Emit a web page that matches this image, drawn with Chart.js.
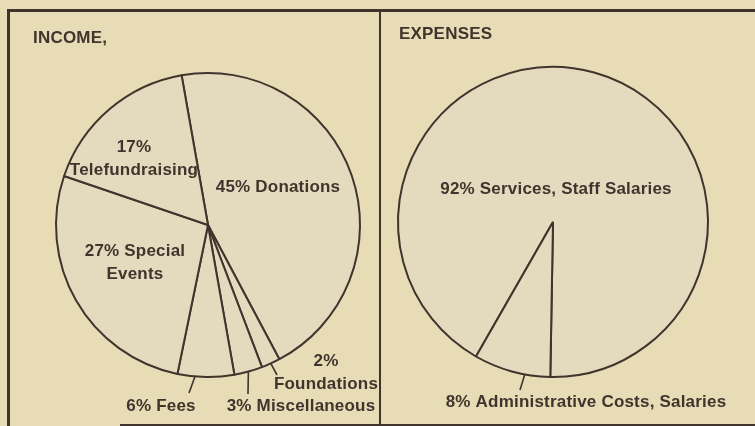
<!DOCTYPE html>
<html>
<head>
<meta charset="utf-8">
<script src="https://cdn.jsdelivr.net/npm/chart.js@4.4.1/dist/chart.umd.min.js"></script>
<style>
  html, body { margin: 0; padding: 0; }
  body { width: 755px; height: 426px; background: #e7dcb6; position: relative; overflow: hidden; }
  canvas { position: absolute; top: 0; }
  #cInc { left: 0; }
  #cExp { left: 380px; }
  .rule { position: absolute; background: #3f332b; }
</style>
</head>
<body>
<div class="rule" style="left:7px; top:9px; width:748px; height:3px;"></div>
<div class="rule" style="left:7px; top:9px; width:3px; height:417px;"></div>
<div class="rule" style="left:379px; top:9px; width:2px; height:417px;"></div>
<div class="rule" style="left:120px; top:424px; width:635px; height:2px;"></div>
<canvas id="cInc" width="380" height="426"></canvas>
<canvas id="cExp" width="375" height="426"></canvas>
<script>
// ---- data ----
const incomeTitle = 'INCOME,';
const incomeCategories = ['Donations', 'Foundations', 'Miscellaneous', 'Fees', 'Special Events', 'Telefundraising'];
const incomeValues = [45, 2, 3, 6, 27, 17];

const expenseTitle = 'EXPENSES';
const expenseCategories = ['Services, Staff Salaries', 'Administrative Costs, Salaries'];
const expenseValues = [92, 8];

// ---- styling ----
const INK = '#40342d';
const PIE_FILL = '#e4dabd';
const FONT = 'bold 17px "Liberation Sans", Arial, sans-serif';
const LETTER_SPACING = '0.2px';
const LINE_H = 23;

// label layout (offsets from pie centre), line-break mode: 0 one line, 1 break after %, 2 break before last word
const incomeLabelLayout = [
  { dx: 70, dy: -38, mode: 0 },
  { dx: 118, dy: 148, mode: 1, leader: { frac: 0.5, ex: 69, ey: 150 } },
  { dx: 93, dy: 181, mode: 0, leader: { frac: 0.5, ex: 40, ey: 169 } },
  { dx: -47, dy: 181, mode: 0, leader: { frac: 0.69, ex: -19, ey: 168 } },
  { dx: -73, dy: 38, mode: 2 },
  { dx: -74, dy: -66, mode: 1 }
];
const expenseLabelLayout = [
  { dx: 3, dy: -33, mode: 0 },
  { dx: 33, dy: 180, mode: 0, leader: { frac: 0.33, ex: -33, ey: 168 } }
];

function labelLines(value, cat, mode) {
  const pct = value + '%';
  if (mode === 1) return [pct, cat];
  if (mode === 2) {
    const w = cat.split(' ');
    const last = w.pop();
    return [pct + ' ' + w.join(' '), last];
  }
  return [pct + ' ' + cat];
}

const pieText = {
  id: 'pieText',
  afterDraw(chart, args, opts) {
    const ctx = chart.ctx;
    const arcs = chart.getDatasetMeta(0).data;
    const values = chart.data.datasets[0].data;
    const cats = chart.data.labels;
    ctx.save();
    ctx.fillStyle = INK;
    ctx.strokeStyle = INK;
    ctx.font = FONT;
    if ('letterSpacing' in ctx) ctx.letterSpacing = LETTER_SPACING;
    // title
    ctx.textAlign = 'left';
    ctx.textBaseline = 'alphabetic';
    ctx.fillText(opts.title, opts.titleX, opts.titleY);
    const cx = arcs[0].x, cy = arcs[0].y, r = arcs[0].outerRadius;
    ctx.textAlign = 'center';
    ctx.textBaseline = 'middle';
    opts.layout.forEach((L, i) => {
      const lines = labelLines(values[i], cats[i], L.mode);
      const y0 = cy + L.dy - (lines.length - 1) * LINE_H / 2;
      lines.forEach((t, k) => ctx.fillText(t, cx + L.dx, y0 + k * LINE_H));
      if (L.leader) {
        const a = arcs[i].startAngle + (arcs[i].endAngle - arcs[i].startAngle) * L.leader.frac;
        ctx.lineWidth = 1.6;
        ctx.beginPath();
        ctx.moveTo(cx + r * Math.cos(a), cy + r * Math.sin(a));
        ctx.lineTo(cx + L.leader.ex, cy + L.leader.ey);
        ctx.stroke();
      }
    });
    ctx.restore();
  }
};

function makePie(id, cats, vals, rotation, padding, textOpts) {
  return new Chart(document.getElementById(id), {
    type: 'pie',
    data: {
      labels: cats,
      datasets: [{
        data: vals,
        backgroundColor: PIE_FILL,
        borderColor: INK,
        borderWidth: 2
      }]
    },
    options: {
      responsive: false,
      animation: false,
      rotation: rotation,
      layout: { padding: padding },
      plugins: {
        legend: { display: false },
        tooltip: { enabled: false },
        pieText: textOpts
      }
    },
    plugins: [pieText]
  });
}

makePie('cInc', incomeCategories, incomeValues, -10,
  { left: 55, top: 72, right: 19, bottom: 48 },
  { title: incomeTitle, titleX: 33, titleY: 43, layout: incomeLabelLayout });

makePie('cExp', expenseCategories, expenseValues, 209.8,
  { left: 17, top: 66, right: 46, bottom: 48 },
  { title: expenseTitle, titleX: 19, titleY: 39, layout: expenseLabelLayout });
</script>
</body>
</html>
